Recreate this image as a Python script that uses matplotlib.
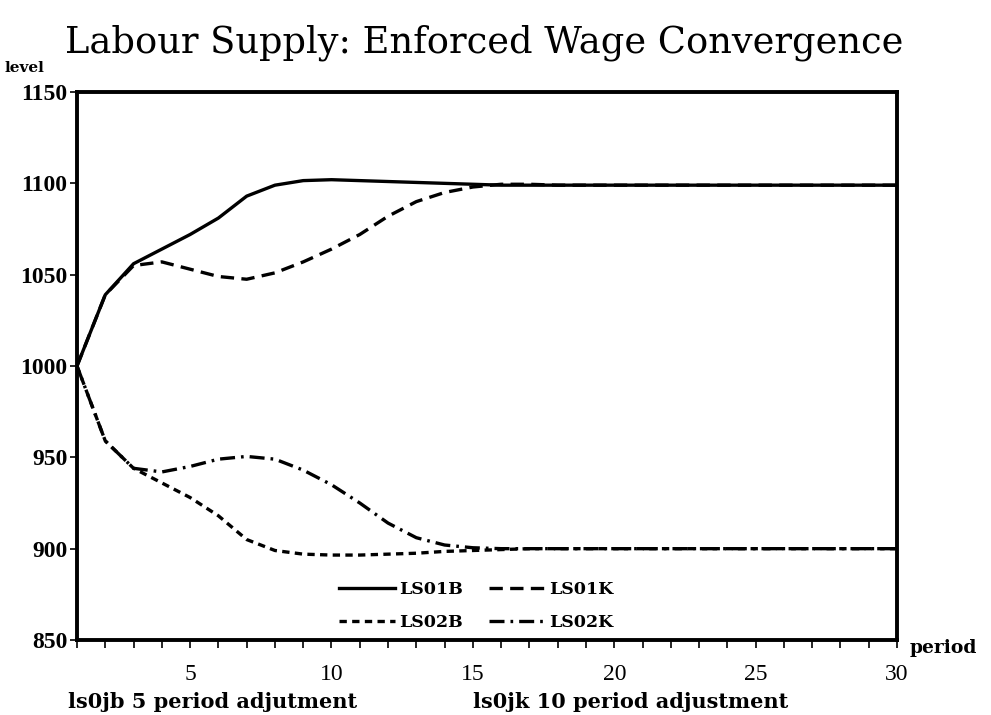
import numpy as np
import matplotlib.pyplot as plt
from matplotlib.ticker import MultipleLocator

period = list(range(1, 31))
ls01b = [1000, 1039, 1056, 1064, 1072, 1081, 1093, 1099, 1101.5, 1102,
         1101.5, 1101, 1100.5, 1100, 1099.5, 1099, 1099, 1099, 1099, 1099,
         1099, 1099, 1099, 1099, 1099, 1099, 1099, 1099, 1099, 1099]
ls01k = [1000, 1039, 1055, 1057, 1053, 1049, 1047.5, 1051, 1057, 1064,
         1072, 1082, 1090, 1095, 1098, 1099.5, 1099.5, 1099, 1099, 1099,
         1099, 1099, 1099, 1099, 1099, 1099, 1099, 1099, 1099, 1099]
ls02b = [1000, 959, 944, 936, 928, 918, 905, 899, 897, 896.5,
         896.5, 897, 897.5, 898.5, 899, 899.5, 900, 900, 900, 900,
         900, 900, 900, 900, 900, 900, 900, 900, 900, 900]
ls02k = [1000, 959, 944, 942, 945, 949, 950.5, 949, 943, 935,
         925, 914, 906, 902, 900.5, 900, 900, 900, 900, 900,
         900, 900, 900, 900, 900, 900, 900, 900, 900, 900]
labels = ["LS01B", "LS01K", "LS02B", "LS02K"]

serif = "Liberation Serif"
dserif = "DejaVu Serif"

fig = plt.figure(figsize=(9.91, 7.15), dpi=100)
ax = fig.add_axes([0.0777, 0.1049, 0.8275, 0.7664])

lw = 2.4
l1, = ax.plot(period, ls01b, color="black", lw=lw, label=labels[0])
l2, = ax.plot(period, ls01k, color="black", lw=lw, dashes=(4, 2.2), label=labels[1])
l3, = ax.plot(period, ls02b, color="black", lw=lw, dashes=(2.2, 1.6), label=labels[2])
l4, = ax.plot(period, ls02k, color="black", lw=lw, dashes=(4.5, 1.8, 0.8, 1.8), label=labels[3])

ax.set_xlim(1, 30)
ax.set_ylim(850, 1150)
ax.xaxis.set_major_locator(MultipleLocator(5))
ax.xaxis.set_minor_locator(MultipleLocator(1))
ax.yaxis.set_major_locator(MultipleLocator(50))

for s in ax.spines.values():
    s.set_linewidth(2.8)

ax.tick_params(axis="x", which="both", direction="out", length=6, width=1.2, pad=11)
ax.tick_params(axis="y", direction="out", length=5, width=1.2, pad=2)
for t in ax.get_xticklabels():
    t.set_fontfamily(serif)
    t.set_fontsize(17)
for t in ax.get_yticklabels():
    t.set_fontfamily(serif)
    t.set_fontsize(17)
    t.set_fontweight("bold")

# row-wise order: LS01B LS01K / LS02B LS02K
leg = ax.legend([l1, l3, l2, l4], [labels[0], labels[2], labels[1], labels[3]],
                loc="center", bbox_to_anchor=(476 / 991, 1 - 606 / 715),
                bbox_transform=fig.transFigure, ncol=2, frameon=False,
                handlelength=3.2, handletextpad=0.25, columnspacing=1.5,
                labelspacing=0.95,
                prop={"family": dserif, "weight": "bold", "size": 12.5})

fig.text(0.066, 0.94, "Labour Supply: Enforced Wage Convergence", fontsize=26.5,
         family=dserif, va="center", ha="left")
fig.text(0.005, 0.905, "level", fontsize=11, family=dserif, fontweight="bold",
         va="center", ha="left")
fig.text(910 / 991, 1 - 648 / 715, "period", fontsize=13.5, family=dserif,
         fontweight="bold", va="center", ha="left")
fig.text(68 / 991, 1 - 702 / 715, "ls0jb 5 period adjutment", fontsize=15,
         family=dserif, fontweight="bold", va="center", ha="left")
fig.text(473 / 991, 1 - 702 / 715, "ls0jk 10 period adjustment", fontsize=15,
         family=dserif, fontweight="bold", va="center", ha="left")

fig.savefig("out.png", dpi=100)
